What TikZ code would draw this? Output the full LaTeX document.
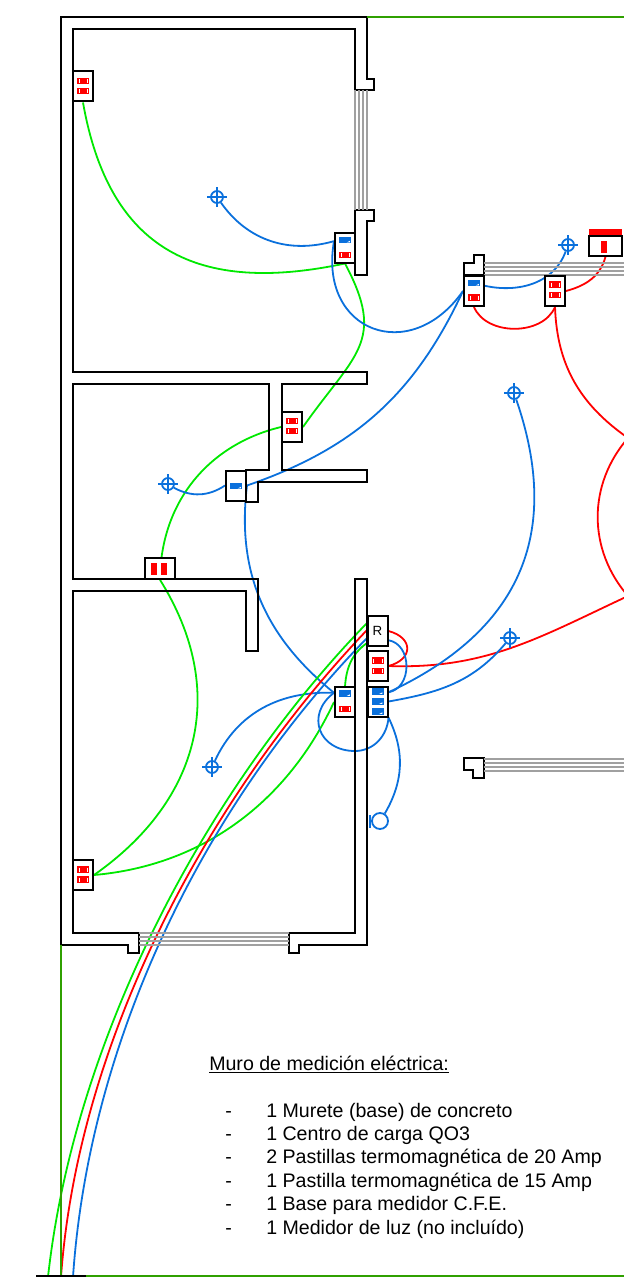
\documentclass[tikz,border=0pt]{standalone}
\usepackage{fontspec}
\setmainfont{Liberation Sans}
\usetikzlibrary{backgrounds}

\definecolor{wireblue}{HTML}{0A70DC}
\definecolor{wiregreen}{HTML}{00E800}
\definecolor{wirered}{HTML}{FF0000}
\definecolor{lotgreen}{HTML}{2FA000}
\definecolor{glassgray}{HTML}{A0A0A0}

\tikzset{
  wall/.style={draw=black,line width=1.5pt,line join=miter},
  glass/.style={draw=glassgray,line width=1.2pt},
  lot/.style={draw=lotgreen,line width=1pt},
  wirer/.style={draw=wirered,line width=1.35pt},
  wireg/.style={draw=wiregreen,line width=1.35pt},
  wireb/.style={draw=wireblue,line width=1.35pt},
  dbox/.style={draw=black,fill=white,line width=1.5pt,inner sep=0pt,minimum width=15pt,minimum height=22.5pt},
  redchip/.style={fill=wirered,inner sep=0pt,minimum width=9pt,minimum height=5pt,
    path picture={\draw[white,line width=.2pt] ([xshift=1.4pt,yshift=-1pt]path picture bounding box.north west) -- ++(0,-3pt)
      ([xshift=-1.4pt,yshift=-1pt]path picture bounding box.north east) -- ++(0,-3pt);}},
  bluechip/.style={fill=wireblue,inner sep=0pt,minimum width=9pt,minimum height=5pt,
    path picture={\fill[white] ([xshift=-.8pt,yshift=.7pt]path picture bounding box.south east) -- ++(-2.4pt,0) -- ++(2.4pt,1.2pt) -- cycle;}},
  lamp/.style={circle,draw=wireblue,line width=1.35pt,inner sep=0pt,minimum size=9pt},
  note/.style={anchor=base west,inner sep=0pt,font=\fontsize{14.7}{17}\selectfont}
}

\begin{document}
\begin{tikzpicture}[x=0.75pt,y=-0.75pt]
    \useasboundingbox (0,0) rectangle (624,1277);

    % walls
    \draw[wall] (367,79) -- (374,79) -- (374,90) -- (355,90) -- (355,29) -- (73,29) -- (73,372)
        -- (367,372) -- (367,384) -- (282,384) -- (282,470) -- (367,470) -- (367,482) -- (258,482)
        -- (258,502) -- (246,502) -- (246,470) -- (269,470) -- (269,384) -- (73,384) -- (73,579)
        -- (258,579) -- (258,651) -- (246,651) -- (246,591) -- (73,591) -- (73,933) -- (139,933)
        -- (139,953) -- (128,953) -- (128,945) -- (61,945) -- (61,17) -- (367,17) -- cycle;
    \draw[wall] (355,933) -- (355,579) -- (367,579) -- (367,945) -- (299,945) -- (299,953)
        -- (289,953) -- (289,933) -- cycle;
    \draw[wall] (355,210) -- (374,210) -- (374,221) -- (367,221) -- (367,275) -- (355,275) -- cycle;
    \draw[wall] (464,275) -- (464,263) -- (474,263) -- (474,255) -- (484,255) -- (484,275) -- cycle;
    \draw[wall] (484,758) -- (464,758) -- (464,770) -- (473,770) -- (473,778) -- (484,778) -- cycle;

    % windows
    \foreach \x in {355,359,363,367} \draw[glass] (\x,90) -- (\x,210);
    \foreach \y in {263,267,271,275} \draw[glass] (484,\y) -- (624,\y);
    \foreach \y in {759,763,767,771} \draw[glass] (484,\y) -- (624,\y);
    \foreach \y in {933,937,941,945} \draw[glass] (139,\y) -- (289,\y);

    % lot limits
    \draw[lot] (367,17) -- (624,17);
    \draw[lot] (61,945) -- (61,1276);
    \draw[lot] (86,1276) -- (624,1276);
    \draw[black,line width=1pt] (36,1276) -- (86,1276);

    % boxes
    \node[dbox] (d1) at (83,86.5) {};
    \node[redchip] (d1a) at (83,81) {};
    \node[redchip] (d1b) at (83,91) {};
    \node[dbox] (d2) at (345,247.5) {};
    \node[bluechip] (d2a) at (345,240) {};
    \node[redchip] (d2b) at (345,255) {};
    \node[dbox] (d3) at (474,291) {};
    \node[bluechip] (d3a) at (474,283) {};
    \node[redchip] (d3b) at (474,297.5) {};
    \node[dbox] (d4) at (555,291) {};
    \node[redchip] (d4a) at (555,284.5) {};
    \node[redchip] (d4b) at (555,295) {};
    \node[dbox,minimum height=14.5pt,minimum width=24.8pt] (met) at (605.5,246) {};
    \node[redchip,rotate=90] (meta) at (604,246.5) {};
    \node[fill=wirered,inner sep=0pt,minimum width=24.8pt,minimum height=4.5pt] (metb) at (605.5,232) {};
    \node[dbox] (d6) at (292,427) {};
    \node[redchip] (d6a) at (292,421) {};
    \node[redchip] (d6b) at (292,431) {};
    \node[dbox] (d7) at (236,485.5) {};
    \node[bluechip] (d7a) at (236,486) {};
    \node[dbox,minimum height=15.5pt,minimum width=22.5pt] (d8) at (160,568.5) {};
    \node[redchip,rotate=90] (d8a) at (154,568.5) {};
    \node[redchip,rotate=90] (d8b) at (164,568.5) {};
    \node[dbox] (rbox) at (377.5,631) {\fontsize{10}{10}\selectfont R};
    \node[dbox] (rcb) at (377.5,666) {};
    \node[redchip] (rcba) at (377.5,660.5) {};
    \node[redchip] (rcbb) at (377.5,671) {};
    \node[dbox] (bb) at (377.5,701.5) {};
    \node[bluechip] (bba) at (377.5,691.5) {};
    \node[bluechip] (bbb) at (377.5,701.5) {};
    \node[bluechip] (bbc) at (377.5,711.5) {};
    \node[dbox] (bd) at (345,702) {};
    \node[bluechip] (bda) at (345,693.5) {};
    \node[redchip] (bdb) at (345,709) {};
    \node[dbox] (d9) at (83,875) {};
    \node[redchip] (d9a) at (83,869.5) {};
    \node[redchip] (d9b) at (83,879.5) {};

    % lamps and switch
    \foreach \n/\x/\y in {l1/217/197,l2/514/393,l3/168/484,l4/510/638,l5/212/767,l6/568/245} {
        \node[lamp] (\n) at (\x,\y) {};
        \draw[wireb] (\x-10,\y) -- (\x+10,\y) (\x,\y-10) -- (\x,\y+10);
    }
    \node[lamp,minimum size=12pt] (sw) at (380,821) {};
    \node[fill=wireblue,inner sep=0pt,minimum width=2pt,minimum height=10pt] (swbar) at (370,821.5) {};

    % free ends
    \coordinate (gtop) at (367,623);
    \coordinate (rtop) at (367,630);
    \coordinate (btop) at (367,638);
    \coordinate (gnext) at (367,643);
    \coordinate (gend) at (48,1277);
    \coordinate (rend) at (61,1277);
    \coordinate (bend) at (73,1277);
    \coordinate (ea) at (628,438);
    \coordinate (eb) at (628,596);
    \coordinate (low) at (355,751);

    \begin{scope}[on background layer]
    % green run
    \draw[wireg] (d1.south) to[out=-80,in=192,looseness=1.25] (d2.south);
    \draw[wireg] (d2.south) to[out=-62,in=55,looseness=1.35] (d6.east);
    \draw[wireg] (d6.west) to[bend right=38] (d8.south);
    \draw[wireg] (d8.south) to[out=-58,in=35,looseness=1.1] (d9.east);
    \draw[wireg] (d9.east) to[out=5,in=245,looseness=.95] (bd.west);
    \draw[wireg] (bdb) to[out=92,in=215] (gnext);
    % red run
    \draw[wirer] (rbox.east) to[bend left=75,looseness=1.9] (rcb.east);
    \draw[wirer] (rcb.east) to[out=-2,in=205] (eb);
    \draw[wirer] (d3.south) to[bend right=67] (d4.south);
    \draw[wirer] (d4.south) to[out=-88,in=145] (ea);
    \draw[wirer] (ea) to[bend right=41] (eb);
    \draw[wirer] (d4.east) to[out=15,in=-105] (met.south);
    % blue run
    \draw[wireb] (l1) to[out=-55,in=196] (d2.150);
    \draw[wireb] (d2.150) to[out=-100,in=-125,looseness=1.7] (d3.west);
    \draw[wireb] (d3a) to[out=-15,in=-110] (l6);
    \draw[wireb] (d3.west) to[bend left=23] (d7.east);
    \draw[wireb] (d7.west) to[bend left=31] (l3);
    \draw[wireb] (d7.east) to[out=-97,in=141] (bd.140);
    \draw[wireb] (bd.140) to[out=178,in=65] (l5);
    \draw[wireb] (bd.140) to[out=217,in=180,looseness=1.5] (low) to[out=0,in=266] (bb.south east);
    \draw[wireb] (l2) to[out=-71,in=25,looseness=1.15] (bb.40);
    \draw[wireb] (l4) to[out=-130,in=10] (bb.east);
    \draw[wireb] (bb.south east) to[bend left=28] (sw);
    \draw[wireb] (rbox.-40) to[bend left=80,looseness=1.2] (bb.40);
    % feeders
    \draw[wireg] (gtop) .. controls (205,790) and (74,1040) .. (gend);
    \draw[wirer] (rtop) .. controls (208,797) and (78,1040) .. (rend);
    \draw[wireb] (btop) .. controls (204,805) and (89,1040) .. (bend);
    \end{scope}

    % list
    \node[note] (title) at (209,1070) {\underline{Muro de medición eléctrica:}};
    \foreach \n/\y/\t in {a/1117/1 Murete (base) de concreto,b/1140/1 Centro de carga QO3,
        c/1163/2 Pastillas termomagnética de 20 Amp,d/1187/1 Pastilla termomagnética de 15 Amp,
        e/1210/1 Base para medidor C.F.E.,f/1234/1 Medidor de luz (no incluído)} {
        \node[note] (dash\n) at (225,\y) {-};
        \node[note] (item\n) at (266,\y) {\t};
    }
\end{tikzpicture}
\end{document}
